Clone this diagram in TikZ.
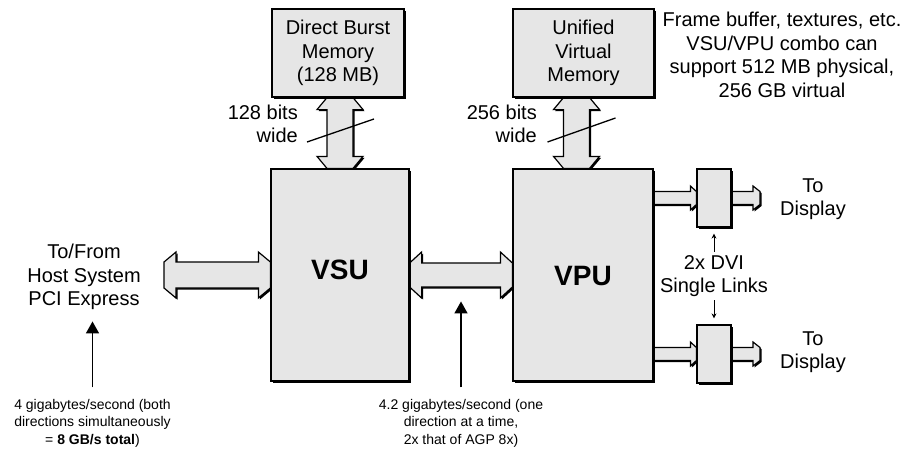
\documentclass[tikz,border=0pt]{standalone}
\usepackage{fontspec}
\setmainfont{Liberation Sans}
\usepackage{tikz}
\usetikzlibrary{arrows.meta, positioning, calc, shadows, backgrounds}
\definecolor{chipgray}{HTML}{E6E6E6}
\newcommand{\bigtext}{\fontsize{20}{23.5}\selectfont}
\newcommand{\smalltext}{\fontsize{14}{17.5}\selectfont}
\newcommand{\chiptext}{\fontsize{28}{32}\selectfont\bfseries}
% fat bus arrow, both ends: from, to, shaft half, head half, head length
\newcommand{\dblbus}[5]{%
  \coordinate (ba) at (#1);
  \coordinate (bb) at (#2);
  \coordinate (ha) at ($(ba)!#5!(bb)$);
  \coordinate (hb) at ($(bb)!#5!(ba)$);
  \draw[bus] ($(ba)!#3!90:(bb)$) -- ($(ha)!#4!90:(bb)$) -- ($(ha)!#3!90:(bb)$)
    -- ($(hb)!#3!-90:(ba)$) -- ($(hb)!#4!-90:(ba)$) -- ($(bb)!#3!-90:(ba)$)
    -- ($(bb)!#3!90:(ba)$) -- ($(hb)!#4!90:(ba)$) -- ($(hb)!#3!90:(ba)$)
    -- ($(ha)!#3!-90:(bb)$) -- ($(ha)!#4!-90:(bb)$) -- ($(ba)!#3!-90:(bb)$) -- cycle;}
% fat bus arrow, one end
\newcommand{\onebus}[5]{%
  \coordinate (ba) at (#1);
  \coordinate (bb) at (#2);
  \coordinate (hb) at ($(bb)!#5!(ba)$);
  \draw[bus] ($(ba)!#3!90:(bb)$) -- ($(hb)!#3!-90:(ba)$) -- ($(hb)!#4!-90:(ba)$)
    -- ($(bb)!#3!-90:(ba)$) -- ($(bb)!#3!90:(ba)$) -- ($(hb)!#4!90:(ba)$)
    -- ($(hb)!#3!90:(ba)$) -- ($(ba)!#3!-90:(bb)$) -- cycle;}

\begin{document}
\begin{tikzpicture}[
      x=1pt, y=-1pt,
      box/.style={rectangle, draw, line width=1.2pt, fill=chipgray, inner sep=0pt,
                  align=center, font=\bigtext,
                  drop shadow={shadow xshift=2pt, shadow yshift=-2pt, opacity=1, fill=black}},
      bus/.style={draw, line width=1.2pt, fill=chipgray, line join=miter,
                  drop shadow={shadow xshift=1.5pt, shadow yshift=-1.5pt, opacity=1, fill=black}},
      chip/.style={font=\chiptext},
      txt/.style={align=center, font=\bigtext},
      note/.style={align=center, font=\smalltext},
      pointer/.style={-{Triangle[length=12pt, width=13pt]}, line width=1.6pt},
      smallptr/.style={-{Stealth[length=5pt, width=5pt]}, line width=1pt},
      slash/.style={line width=1.3pt}
    ]
      \useasboundingbox (0,0) rectangle (905,448);

      % memories and chips
      \node[box, minimum width=132pt, minimum height=88pt] (dbm) at (338,53) {Direct Burst\\Memory\\(128 MB)};
      \node[box, minimum width=141pt, minimum height=88pt] (uvm) at (583.5,53) {Unified\\Virtual\\Memory};
      \node[box, minimum width=138pt, minimum height=212pt] (vsu) at (340,275) {};
      \node[box, minimum width=140pt, minimum height=212pt] (vpu) at (583,275) {};
      \node[chip] (vsulabel) at (340,270) {VSU};
      \node[chip] (vpulabel) at (583,276) {VPU};
      \node[box, minimum width=34pt, minimum height=58pt] (dvia) at (714,198) {};
      \node[box, minimum width=34pt, minimum height=58pt] (dvib) at (714,354) {};

      % labels
      \node[txt] (host) at (84,277) {To/From\\Host System\\PCI Express};
      \node[txt] (frame) at (782,55) {Frame buffer, textures, etc.\\VSU/VPU combo can\\support 512 MB physical,\\256 GB virtual};
      \node[txt, anchor=east, align=right, inner sep=0pt] (dbmwidth) at (298,124) {128 bits\\wide};
      \node[txt, anchor=east, align=right, inner sep=0pt] (uvmwidth) at (537,124) {256 bits\\wide};
      \node[txt] (displaya) at (813,199) {To\\Display};
      \node[txt] (displayb) at (813,352) {To\\Display};
      \node[txt] (dvi) at (714,276) {2x DVI\\Single Links};
      \node[note] (hostnote) at (92.5,423) {4 gigabytes/second (both\\directions simultaneously\\= \textbf{8 GB/s total})};
      \node[note] (busnote) at (461,423) {4.2 gigabytes/second (one\\direction at a time,\\2x that of AGP 8x)};

      % buses
      \begin{scope}[on background layer]
        \dblbus{vsu.north |- dbm.south}{vsu.north}{13pt}{23pt}{12pt}
        \coordinate (uvmbus) at ([xshift=-7pt]uvm.south);
        \dblbus{uvmbus}{uvmbus |- vpu.north}{13pt}{23pt}{12pt}
        \coordinate (hostend) at (164,275);
        \dblbus{hostend}{vsu.west}{13pt}{23pt}{12pt}
        \dblbus{vsu.east}{vpu.west}{12pt}{23pt}{12pt}
        \onebus{vpu.east |- dvia.west}{dvia.west}{6.5pt}{12pt}{6pt}
        \onebus{vpu.east |- dvib.west}{dvib.west}{6.5pt}{12pt}{6pt}
        \coordinate (outa) at (760,198);
        \coordinate (outb) at (760,354);
        \onebus{dvia.east}{outa}{6.5pt}{12pt}{7pt}
        \onebus{dvib.east}{outb}{6.5pt}{12pt}{7pt}
      \end{scope}

      % bus widths
      \coordinate (dbmmid) at ($(vsu.north |- dbm.south)!0.5!(vsu.north)$);
      \coordinate (uvmmid) at ($(uvmbus)!0.5!(uvmbus |- vpu.north)$);
      \draw[slash] ($(dbmmid)+(-33,9)$) -- ($(dbmmid)+(34,-14)$);
      \draw[slash] ($(uvmmid)+(-29,9)$) -- ($(uvmmid)+(39,-15)$);

      % pointers
      \draw[pointer] ([yshift=8pt]hostnote.north) -- ++(0,-66);
      \draw[pointer] ([yshift=8pt]busnote.north) -- ++(0,-86);
      \draw[smallptr] (dvi.north) -- ([yshift=-6pt]dvia.south);
      \draw[smallptr] (dvi.south) -- ([yshift=6pt]dvib.north);
    \end{tikzpicture}
\end{document}
